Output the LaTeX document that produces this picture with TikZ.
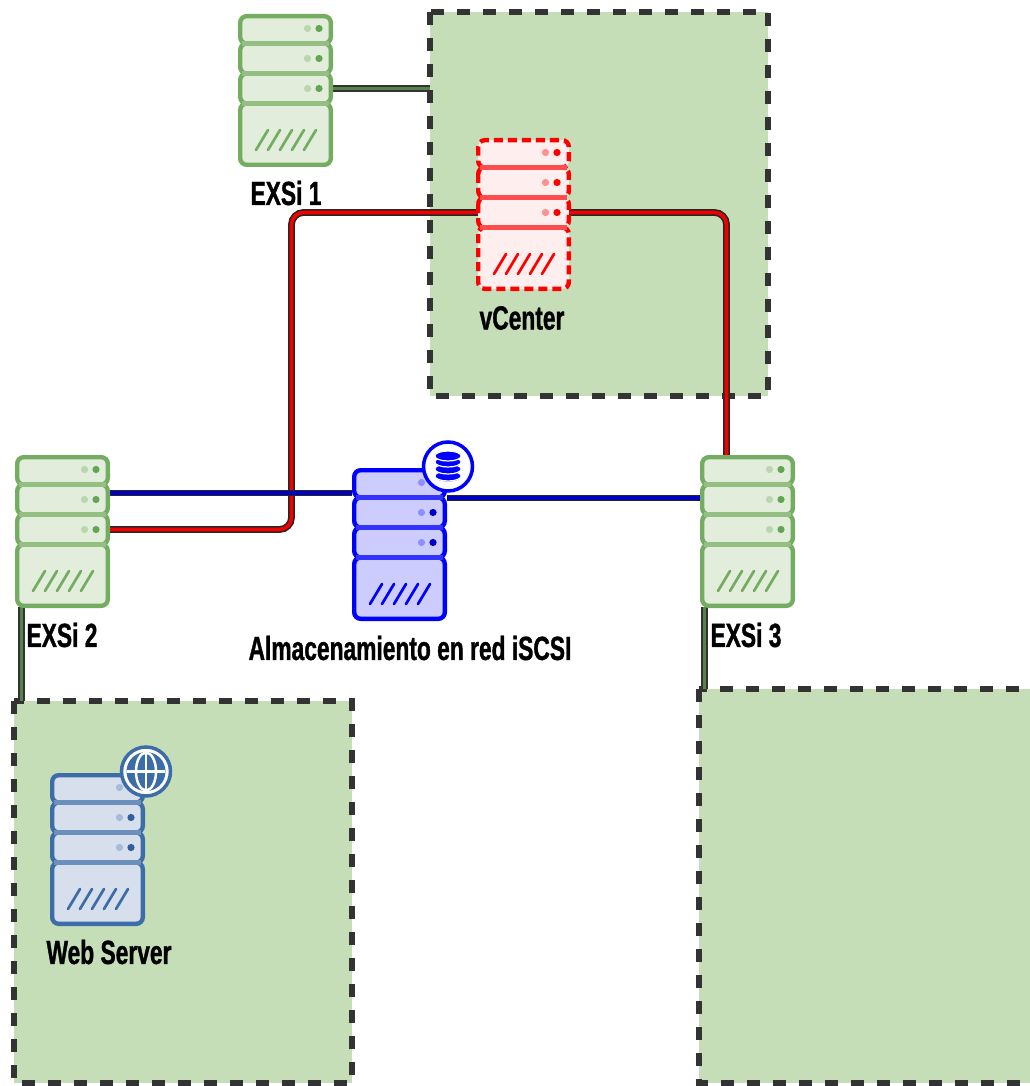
\documentclass[tikz,border=0pt]{standalone}
\usepackage{fontspec}
\usetikzlibrary{backgrounds}
\setmainfont{Liberation Sans}
\newfontfamily\lblfont[FakeStretch=0.68,FakeBold=1]{Liberation Sans Bold}
\definecolor{frameFill}{HTML}{C5DEB8}
\definecolor{frameLine}{HTML}{333333}
\definecolor{gS}{HTML}{74AD62}\definecolor{gF}{HTML}{E2EDDB}\definecolor{gD}{HTML}{93BF82}\definecolor{gDot}{HTML}{62A552}\definecolor{gLt}{HTML}{B9D6AE}
\definecolor{bS}{HTML}{0000FF}\definecolor{bF}{HTML}{CCCCFF}\definecolor{bD}{HTML}{3333FF}\definecolor{bDot}{HTML}{0000CC}\definecolor{bLt}{HTML}{8F8FFF}
\definecolor{wS}{HTML}{3D6DA8}\definecolor{wF}{HTML}{D6DFEB}\definecolor{wD}{HTML}{6C90BD}\definecolor{wDot}{HTML}{2F5F9C}\definecolor{wLt}{HTML}{A5BCD8}
\definecolor{rS}{HTML}{FF0000}\definecolor{rF}{HTML}{FFEEEE}\definecolor{rD}{HTML}{FF4D4D}\definecolor{rDot}{HTML}{FF0000}\definecolor{rLt}{HTML}{FF9090}
\tikzset{
  x=1pt,y=-1pt,
  frameBox/.style={draw=none,fill=frameFill,inner sep=0pt,outer sep=0pt,anchor=north west},
  frameEdge/.style={draw=frameLine,line width=6pt,dash pattern=on 13pt off 13pt,fill=none},
  label/.style={font=\lblfont\fontsize{33.5}{36}\selectfont,text=black,inner sep=0pt},
  wireR/.style={draw=black!85,line width=1.6pt,double=red!95!black,double distance=3.6pt,rounded corners=12pt},
  wireB/.style={draw=black!85,line width=1.6pt,double=blue!75!black,double distance=3.6pt},
  wireG/.style={draw=frameLine,line width=1.8pt,double=gS!75!black,double distance=3.2pt},
  pics/server/.style 2 args={code={
    \node[inner sep=0pt,outer sep=0pt,minimum width=95pt,minimum height=153pt,anchor=north west] (-body) at (0,0) {};
    \foreach \ya/\yb in {2.2/29.5,29.5/59.5,59.5/89.5}{
      \draw[#1S,fill=#1F,line width=4.4pt,rounded corners=6.5pt,#2] (2.2,\ya) rectangle (92.8,\yb);
    }
    \draw[#1S,fill=#1F,line width=4.4pt,rounded corners=6.5pt,#2] (2.2,89.5) rectangle (92.8,150.8);
    \foreach \yy in {29.5,59.5,89.5}{\draw[#1D,line width=4.5pt] (4,\yy) -- (91,\yy);}
    \foreach \yy in {14.5,44.5,74.5}{
      \fill[#1Lt] (69.5,\yy) circle (3.6pt);
      \fill[#1Dot] (81,\yy) circle (3.6pt);
    }
    \foreach \dx in {0,12,24,36,48}{
      \draw[#1S,line width=2.7pt,line cap=round] (18+\dx,136) -- (30+\dx,116);
    }
    \coordinate (-r3) at (95,74.5);
  }}
}
\begin{document}
\begin{tikzpicture}
\useasboundingbox (0,0) rectangle (1029,1086);

\pic (e1) at (238,14) {server={g}{solid}};
\pic (e2) at (15,455) {server={g}{solid}};
\pic (e3) at (700,455) {server={g}{solid}};
\pic (st) at (352,468) {server={b}{solid}};
\pic (vc) at (476,138) {server={r}{dash pattern=on 9pt off 5pt}};
\pic (ws) at (50,773) {server={w}{solid}};

\coordinate (rx) at (291.5,0);
\coordinate (e3t) at (726.5,455);
\coordinate (g2) at (21.5,607);
\coordinate (g3) at (704.5,607);
\coordinate (bL) at (110,493);
\coordinate (bR) at (447,498);

\begin{pgfonlayer}{background}
\node[frameBox,minimum width=338pt,minimum height=384pt] (f1) at (430,12) {};
\node[frameBox,minimum width=338pt,minimum height=382pt] (f2) at (14,701) {};
\node[frameBox,minimum width=338pt,minimum height=394pt] (f3) at (699,689) {};
\foreach \f in {f1,f2,f3}{\draw[frameEdge] (\f.north west) rectangle (\f.south east);}
\draw[wireG] (e1-r3) -- (e1-r3 -| f1.west);
\draw[wireG] (g2) -- (g2 |- f2.north);
\draw[wireG] (g3) -- (g3 |- f3.north);
\draw[wireR] (e2-r3) -- (e2-r3 -| rx) -- (rx |- vc-r3) -- (e3t |- vc-r3) -- (e3t);
\draw[wireB] (bL) -- (bL -| st-body.west);
\draw[wireB] (bR) -- (bR -| e3-body.west);
\end{pgfonlayer}

% database badge
\node[circle,draw=bS,fill=white,line width=3.5pt,minimum size=49pt,inner sep=0pt] (dbBadge) at (448,466.5) {};
\foreach \yy in {478,471,464,458}{
  \fill[bS] (435.5,\yy-1) arc[start angle=180,end angle=360,x radius=12.5pt,y radius=4.5pt] -- (460.5,\yy-3) -- (435.5,\yy-3) -- cycle;
  \draw[white,line width=1.2pt,fill=bS] (448,\yy-2) ellipse (13.2pt and 5pt);
}
% globe badge
\node[circle,draw=wS,fill=white,line width=3.5pt,minimum size=49pt,inner sep=0pt] (webBadge) at (146,771.5) {};
\fill[wS] (146,771.5) circle (19.5pt);
\draw[white,line width=2.5pt] (146,771.5) ellipse (10pt and 19pt);
\draw[white,line width=2.5pt] (146,752.5) -- (146,790.5) (127,771.5) -- (165,771.5);

\node[label] (lbE1) at (286,193) {EXSi 1};
\node[label] (lbV) at (522,318) {vCenter};
\node[label] (lbE2) at (62,635) {EXSi 2};
\node[label] (lbE3) at (746,635) {EXSi 3};
\node[label] (lbS) at (410,648) {Almacenamiento en red iSCSI};
\node[label] (lbW) at (109,952) {Web Server};
\end{tikzpicture}
\end{document}
